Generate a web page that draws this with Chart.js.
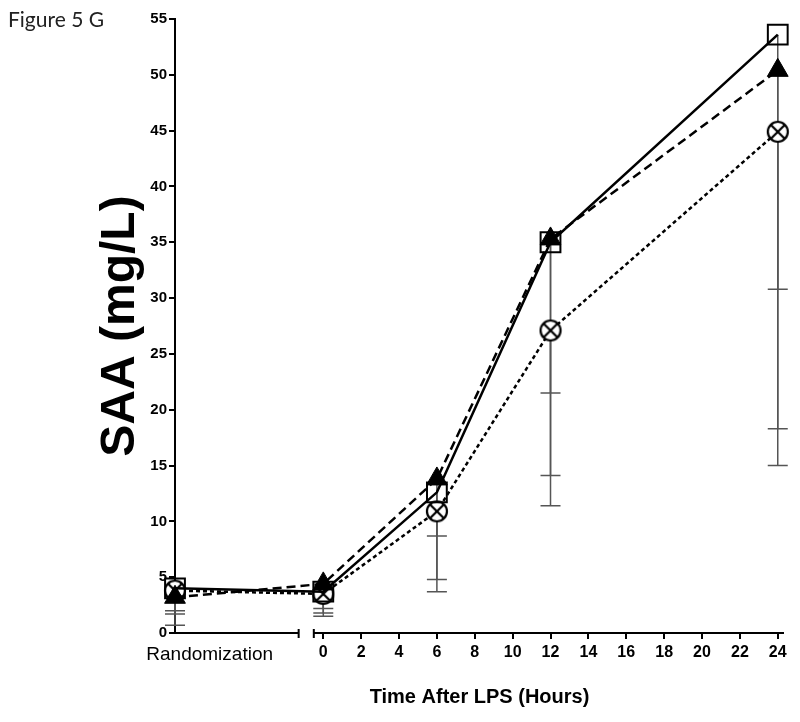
<!DOCTYPE html>
<html>
<head>
<meta charset="utf-8">
<script src="https://cdn.jsdelivr.net/npm/chart.js@4.4.1/dist/chart.umd.min.js"></script>
<style>
  body { margin: 0; background: #fff; }
  #wrap { position: relative; width: 800px; height: 722px; }
  #fig { position: absolute; left: 8px; top: 6px; font: 21px Lato, sans-serif; color: #222; }
</style>
</head>
<body>
<div id="wrap">
  <canvas id="chart" width="800" height="722"></canvas>
  <div id="fig">Figure 5 G</div>
</div>
<script>
    const timepoints = ['Randomization', 0, 6, 12, 24];
    const squareMean = [4.0, 3.7, 12.6, 35.0, 53.6];
    const triangleMean = [3.2, 4.4, 13.8, 35.3, 50.4];
    const crossMean = [3.8, 3.5, 10.9, 27.1, 44.9];
    const squareLow = [2.0, 2.2, 8.7, 21.5, 30.8];
    const triangleLow = [1.7, 1.8, 4.8, 14.1, 18.3];
    const crossLow = [0.7, 1.5, 3.7, 11.4, 15.0];
    const hourTicks = [0, 2, 4, 6, 8, 10, 12, 14, 16, 18, 20, 22, 24];
    const yTicks = [0, 5, 10, 15, 20, 25, 30, 35, 40, 45, 50, 55];

    // layout of the broken x axis (in hour units)
    const X_MIN = -7.83, X_MAX = 24.33;
    const RAND_POS = X_MIN;       // randomization points sit on the y axis
    const RAND_LABEL = -6;
    const SEG1_END = -1.3, SEG2_START = -0.5;

    function toPoints(mean) {
        return timepoints.map((t, i) => ({ x: t === 'Randomization' ? RAND_POS : t, y: mean[i] }));
    }

    function crossedCircle(r) {
        const c = document.createElement('canvas');
        const s = Math.ceil(r * 2 + 4);
        c.width = c.height = s;
        const g = c.getContext('2d');
        const m = s / 2;
        g.lineWidth = 2.2;
        g.strokeStyle = '#000';
        g.fillStyle = '#fff';
        g.beginPath(); g.arc(m, m, r, 0, Math.PI * 2); g.fill(); g.stroke();
        const d = r * 0.68;
        g.beginPath();
        g.moveTo(m - d, m - d); g.lineTo(m + d, m + d);
        g.moveTo(m + d, m - d); g.lineTo(m - d, m + d);
        g.stroke();
        return c;
    }

    const errorBars = {
        id: 'errorBars',
        beforeDatasetsDraw(chart) {
            const { ctx, scales: { x, y } } = chart;
            ctx.save();
            ctx.strokeStyle = '#555';
            ctx.lineWidth = 1.5;
            chart.data.datasets.forEach(ds => {
                ds.data.forEach((p, i) => {
                    const px = x.getPixelForValue(p.x);
                    const top = y.getPixelForValue(p.y);
                    const bot = y.getPixelForValue(ds.lowErr[i]);
                    ctx.beginPath();
                    ctx.moveTo(px, top); ctx.lineTo(px, bot);
                    ctx.moveTo(px - 10, bot); ctx.lineTo(px + 10, bot);
                    ctx.stroke();
                });
            });
            ctx.restore();
        }
    };

    const brokenAxis = {
        id: 'brokenAxis',
        afterDraw(chart) {
            const { ctx, scales: { x, y } } = chart;
            const y0 = y.getPixelForValue(0);
            const e1 = x.getPixelForValue(SEG1_END);
            const s2 = x.getPixelForValue(SEG2_START);
            ctx.save();
            ctx.strokeStyle = '#000';
            ctx.lineWidth = 2;
            ctx.beginPath();
            ctx.moveTo(x.left - 1, y0); ctx.lineTo(e1, y0);
            ctx.moveTo(s2, y0); ctx.lineTo(x.right, y0);
            ctx.moveTo(e1, y0 - 4); ctx.lineTo(e1, y0 + 5);
            ctx.moveTo(s2, y0 - 4); ctx.lineTo(s2, y0 + 5);
            ctx.stroke();
            ctx.restore();
        }
    };

    const hourSet = new Set(hourTicks);

    new Chart(document.getElementById('chart').getContext('2d'), {
        type: 'scatter',
        data: {
            datasets: [
                {
                    data: toPoints(triangleMean), lowErr: triangleLow,
                    showLine: true, borderColor: '#000', borderWidth: 2.5, borderDash: [9, 5],
                    pointStyle: 'triangle', pointRadius: 12, pointBackgroundColor: '#000',
                    pointBorderColor: '#000', pointBorderWidth: 1, clip: false
                },
                {
                    data: toPoints(squareMean), lowErr: squareLow,
                    showLine: true, borderColor: '#000', borderWidth: 2.5,
                    pointStyle: 'rect', pointRadius: 14, pointBackgroundColor: 'rgba(255,255,255,0)',
                    pointBorderColor: '#000', pointBorderWidth: 2, clip: false
                },
                {
                    data: toPoints(crossMean), lowErr: crossLow,
                    showLine: true, borderColor: '#000', borderWidth: 2.5, borderDash: [4, 3],
                    pointStyle: crossedCircle(10), pointRadius: 12, clip: false
                }
            ]
        },
        options: {
            responsive: false,
            animation: false,
            layout: { padding: { top: 19, right: 14, left: 0, bottom: 0 } },
            plugins: { legend: { display: false }, tooltip: { enabled: false } },
            scales: {
                x: {
                    type: 'linear', min: X_MIN, max: X_MAX,
                    afterBuildTicks: s => {
                        s.ticks = [RAND_LABEL, SEG1_END, SEG2_START, ...hourTicks].map(v => ({ value: v }));
                    },
                    afterFit: s => { s.height = 89; },
                    border: { display: false },
                    grid: {
                        drawOnChartArea: false, drawTicks: true, tickLength: 6, lineWidth: 2,
                        tickColor: c => (c.tick && hourSet.has(c.tick.value)) ? '#000' : 'rgba(0,0,0,0)'
                    },
                    ticks: {
                        autoSkip: false, maxRotation: 0, padding: 4, color: '#000',
                        font: c => (c.tick && c.tick.value === RAND_LABEL)
                            ? { family: 'Liberation Sans, Arial', size: 19, weight: 'normal' }
                            : { family: 'Liberation Sans, Arial', size: 16, weight: 'bold' },
                        callback: v => v === RAND_LABEL ? 'Randomization' : (hourSet.has(v) ? String(v) : '')
                    },
                    title: {
                        display: true, text: 'Time After LPS (Hours)', color: '#000',
                        font: { family: 'Liberation Sans, Arial', size: 20, weight: 'bold' },
                        padding: { top: 0, bottom: 13 }
                    }
                },
                y: {
                    min: 0, max: 55,
                    afterBuildTicks: s => { s.ticks = yTicks.map(v => ({ value: v })); },
                    afterFit: s => { s.width = 175; },
                    border: { display: true, color: '#000', width: 2 },
                    grid: { drawOnChartArea: false, drawTicks: true, tickLength: 6, lineWidth: 2, tickColor: '#000' },
                    ticks: {
                        padding: 2, color: '#000',
                        font: { family: 'Liberation Sans, Arial', size: 15, weight: 'bold' }
                    },
                    title: {
                        display: true, text: 'SAA (mg/L)', color: '#000',
                        font: { family: 'Liberation Sans, Arial', size: 48, weight: 'bold' },
                        padding: { top: 92, bottom: 0 }
                    }
                }
            }
        },
        plugins: [errorBars, brokenAxis]
    });
</script>
</body>
</html>
